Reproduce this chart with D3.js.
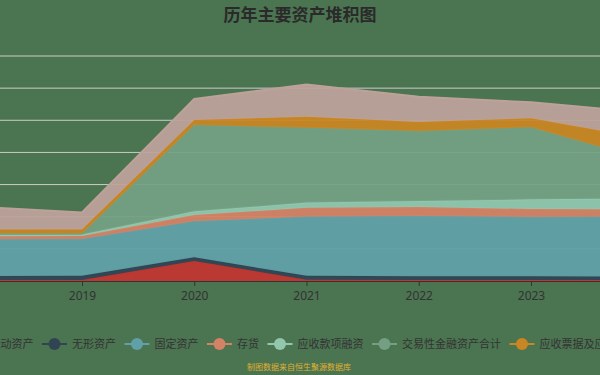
<!DOCTYPE html>
<html>
<head>
<meta charset="utf-8">
<script src="https://cdn.jsdelivr.net/npm/d3@7"></script>
<style>
  html, body { margin: 0; padding: 0; background: #4b7451; }
  svg { display: block; font-family: "Noto Sans CJK SC", "Noto Sans", sans-serif; }
</style>
</head>
<body>
<svg id="chart" width="600" height="375"></svg>
<script>
const years = [2018, 2019, 2020, 2021, 2022, 2023, 2024]
const tickYears = [2019, 2020, 2021, 2022, 2023]
const seriesNames = ['其他流动资产', '无形资产', '固定资产', '存货', '应收款项融资', '交易性金融资产合计', '应收票据及应收账款', '货币资金']
const otherCurrent = [0.3, 0.3, 6.2, 0.4, 0.3, 0.3, 0.3]
const intangible = [1.2, 1.3, 1.2, 1.2, 1.2, 1.2, 1.1]
const fixedAssets = [11.5, 11.5, 11.2, 18.4, 18.7, 18.4, 18.7]
const inventory = [0.9, 0.9, 1.9, 2.8, 2.8, 2.5, 2.2]
const receivableFin = [0.5, 0.5, 1.2, 1.6, 1.9, 3.0, 3.4]
const tradingFin = [0.4, 0.3, 26.8, 23.3, 21.8, 22.4, 12.3]
const notesReceivable = [1.2, 1.2, 1.6, 3.4, 2.8, 2.8, 6.4]
const cash = [7.2, 5.3, 6.5, 10.0, 7.8, 5.0, 8.1]
const yTicks = [10, 20, 30, 40, 50, 60, 70]
const colors = ['#c23531', '#2f4554', '#61a0a8', '#d48265', '#91c7ae', '#749f83', '#ca8622', '#bda29a']

const values = [otherCurrent, intangible, fixedAssets, inventory, receivableFin, tradingFin, notesReceivable, cash]
const rows = years.map((y, i) => {
  const r = { year: y }
  seriesNames.forEach((n, k) => { r[n] = values[k][i] })
  return r
})

const svg = d3.select('#chart')
const xScale = d3.scaleLinear().domain([2019, 2023]).range([82, 531])
const yScale = d3.scaleLinear().domain([0, 70]).range([281, 56])

svg.append('text')
  .attr('x', 300).attr('y', 21)
  .attr('text-anchor', 'middle')
  .attr('font-size', 17).attr('font-weight', 'bold')
  .attr('fill', '#2a2a2a')
  .text('历年主要资产堆积图')

svg.append('g').selectAll('line').data(yTicks).join('line')
  .attr('x1', 0).attr('x2', 600)
  .attr('y1', d => yScale(d)).attr('y2', d => yScale(d))
  .attr('stroke', '#ccc').attr('stroke-width', 1)

const stack = d3.stack().keys(seriesNames)(rows)
const area = d3.area()
  .x(d => xScale(d.data.year))
  .y0(d => yScale(d[0]))
  .y1(d => yScale(d[1]))
const line = d3.line()
  .x(d => xScale(d.data.year))
  .y(d => yScale(d[1]))

const layers = svg.append('g').selectAll('g').data(stack).join('g')
layers.append('path')
  .attr('d', area)
  .attr('fill', (d, i) => colors[i])
  .attr('fill-opacity', 0.94)
layers.append('path')
  .attr('d', line)
  .attr('fill', 'none')
  .attr('stroke', (d, i) => colors[i])
  .attr('stroke-width', 2)

const xAxis = svg.append('g').attr('transform', `translate(0,${yScale(0)})`)
d3.axisBottom(xScale).tickValues(tickYears).tickSize(5).tickSizeOuter(0).tickFormat(d3.format('d'))(xAxis)
xAxis.select('.domain').attr('d', 'M0,0.5H600').attr('stroke', '#333')
xAxis.selectAll('.tick line').attr('stroke', '#333')
xAxis.selectAll('.tick text')
  .attr('fill', '#333').attr('font-size', 12).attr('dy', '0.95em')
  .attr('font-family', '"Noto Sans", sans-serif')

// legend, laid out item by item and shifted so the second item sits where it does in the picture
const legend = svg.append('g').attr('transform', 'translate(0,344)')
const items = legend.selectAll('g').data(seriesNames).join('g')
items.append('line')
  .attr('x1', 0).attr('x2', 25).attr('y1', 0).attr('y2', 0)
  .attr('stroke', (d, i) => colors[i]).attr('stroke-width', 2)
items.append('circle')
  .attr('cx', 12.5).attr('cy', 0).attr('r', 6)
  .attr('fill', (d, i) => colors[i])
items.append('text')
  .attr('x', 30).attr('y', 0).attr('dy', '0.35em')
  .attr('font-size', 11).attr('fill', '#333')
  .text(d => d)

let offset = 0
const starts = []
items.each(function () {
  starts.push(offset)
  offset += 30 + this.querySelector('text').getComputedTextLength() + 8.5
})
const shift = 42 - starts[1]
items.attr('transform', (d, i) => `translate(${starts[i] + shift},0)`)

svg.append('text')
  .attr('x', 299).attr('y', 370)
  .attr('text-anchor', 'middle')
  .attr('font-size', 8).attr('fill', '#e0b030')
  .text('制图数据来自恒生聚源数据库')
</script>
</body>
</html>
